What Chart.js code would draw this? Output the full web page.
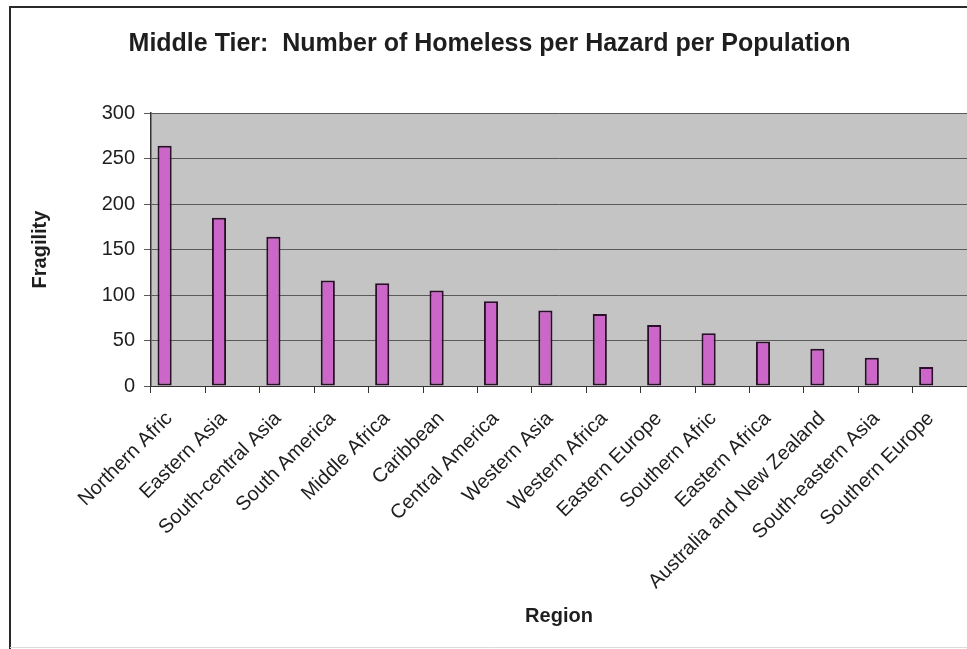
<!DOCTYPE html>
<html>
<head>
<meta charset="utf-8">
<script src="https://cdn.jsdelivr.net/npm/chart.js@4"></script>
<style>
  html, body { margin: 0; padding: 0; background: #ffffff; }
  #wrap { width: 967px; height: 649px; position: relative; }
</style>
</head>
<body>
<div id="wrap"><canvas id="c" width="967" height="649"></canvas></div>
<script>
const chartTitle = "Middle Tier:  Number of Homeless per Hazard per Population";
const xAxisTitle = "Region";
const yAxisTitle = "Fragility";
const categories = ["Northern Afric", "Eastern Asia", "South-central Asia", "South America", "Middle Africa", "Caribbean", "Central America", "Western Asia", "Western Africa", "Eastern Europe", "Southern Afric", "Eastern Africa", "Australia and New Zealand", "South-eastern Asia", "Southern Europe"];
const fragility = [264, 185, 164, 116, 113, 105, 93, 83, 79, 67, 58, 49, 41, 31, 21];
// second (empty) series of the original sheet: keeps the visible bars on the left half of each category
const emptySeries = [null, null, null, null, null, null, null, null, null, null, null, null, null, null, null];
const yTicks = [0, 50, 100, 150, 200, 250, 300];

const FONT = "'Liberation Sans', Arial, Helvetica, sans-serif";
const TXT = "#1e1e1e";

const framePlugin = {
  id: 'frame',
  beforeDraw(chart) {
    const ctx = chart.ctx;
    const a = chart.chartArea;
    ctx.save();
    ctx.fillStyle = '#ffffff';
    ctx.fillRect(0, 0, chart.width, chart.height);
    // outer chart border
    ctx.strokeStyle = '#2a2a2a';
    ctx.lineWidth = 2;
    ctx.beginPath();
    ctx.moveTo(10, chart.height);
    ctx.lineTo(10, 7);
    ctx.lineTo(chart.width, 7);
    ctx.stroke();
    ctx.strokeStyle = '#dcdcdc';
    ctx.lineWidth = 1;
    ctx.beginPath();
    ctx.moveTo(10, 647.5);
    ctx.lineTo(chart.width, 647.5);
    ctx.stroke();
    // plot area
    ctx.fillStyle = '#c4c4c4';
    ctx.fillRect(a.left, a.top, a.right - a.left, a.bottom - a.top);
    ctx.restore();
  }
};

new Chart(document.getElementById('c'), {
  type: 'bar',
  data: {
    labels: categories,
    datasets: [{
      label: yAxisTitle,
      data: fragility,
      backgroundColor: '#cc66c8',
      borderColor: '#2a0f2a',
      borderWidth: 2,
      borderSkipped: false,
      categoryPercentage: 1.0,
      barPercentage: 0.52
    }, {
      label: '',
      data: emptySeries,
      backgroundColor: 'rgba(0,0,0,0)',
      borderWidth: 0,
      categoryPercentage: 1.0,
      barPercentage: 0.52
    }]
  },
  options: {
    responsive: false,
    animation: false,
    devicePixelRatio: 1,
    layout: { padding: { left: 12, right: 0, top: 0, bottom: 0 } },
    plugins: {
      legend: { display: false },
      tooltip: { enabled: false },
      title: {
        display: true,
        text: chartTitle,
        color: TXT,
        font: { family: FONT, size: 25, weight: 'bold' },
        padding: { top: 29, bottom: 54 }
      }
    },
    scales: {
      x: {
        offset: true,
        grid: { display: true, drawOnChartArea: false, drawTicks: true, tickLength: 7, color: '#333', offset: true },
        border: { display: true, color: '#333', width: 1 },
        ticks: { color: TXT, font: { family: FONT, size: 20 }, minRotation: 45, maxRotation: 45, autoSkip: false, padding: 14, labelOffset: -9 },
        title: { display: true, text: xAxisTitle, color: TXT, font: { family: FONT, size: 20, weight: 'bold' }, padding: { top: 0, bottom: 21 } },
        afterFit(scale) { scale.height = 263; scale.paddingRight = 0; }
      },
      y: {
        min: 0,
        max: 300,
        afterBuildTicks(scale) { scale.ticks = yTicks.map(v => ({ value: v })); },
        grid: { color: '#5a5a5a', lineWidth: 1, drawTicks: true, tickLength: 7 },
        border: { display: true, color: '#333', width: 1.5 },
        ticks: { color: TXT, font: { family: FONT, size: 20 }, padding: 9 },
        title: { display: true, text: yAxisTitle, color: TXT, font: { family: FONT, size: 20, weight: 'bold' }, padding: { top: 16, bottom: 0 } },
        afterFit(scale) { scale.width = 139; }
      }
    }
  },
  plugins: [framePlugin]
});
</script>
</body>
</html>
